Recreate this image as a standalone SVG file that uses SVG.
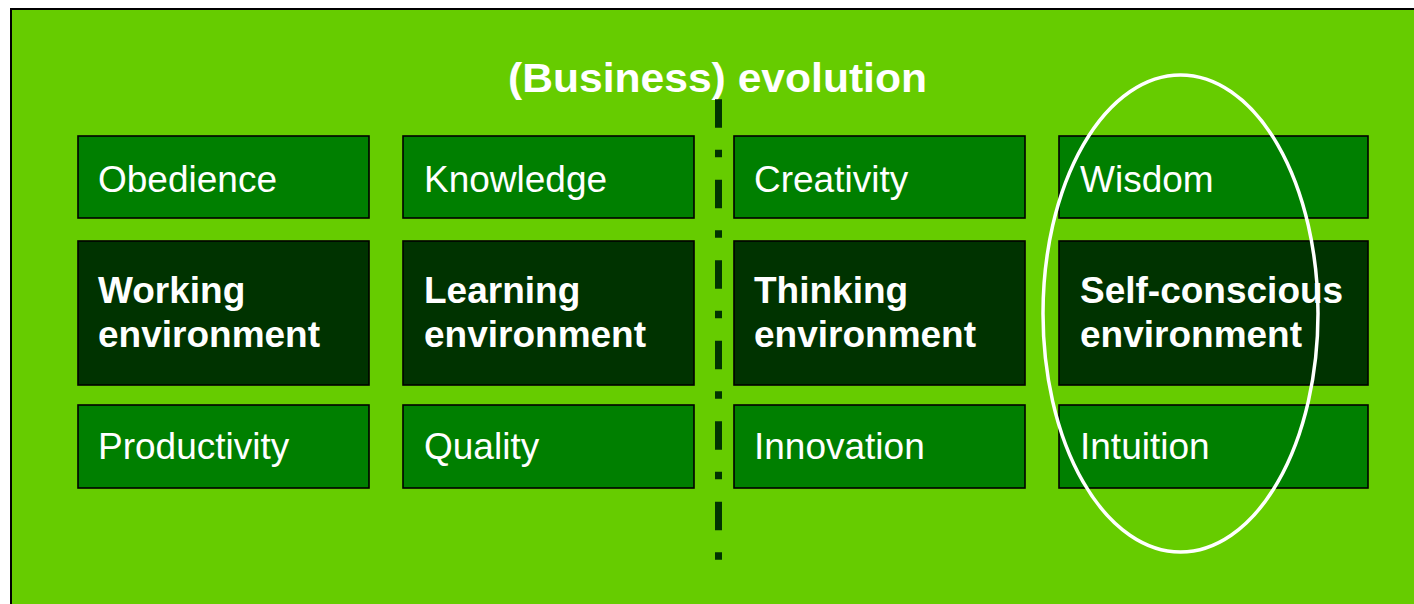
<svg xmlns="http://www.w3.org/2000/svg" width="1414" height="604" viewBox="0 0 1414 604">
<style>
.box{stroke:#000;stroke-width:1.6}
.lt{fill:#007F00}
.dk{fill:#003300}
.t{font-family:"Liberation Sans",Arial,sans-serif;font-size:37px;fill:#fff}
.b{font-weight:bold}
</style>
<rect x="0" y="0" width="1414" height="604" fill="#fff"/>
<rect x="11" y="9" width="1420" height="620" fill="#66CC00" stroke="#000" stroke-width="2"/>
<text class="t b" x="508" y="92" font-size="40" textLength="419" lengthAdjust="spacingAndGlyphs" style="font-size:40px">(Business) evolution</text>
<g id="connectors">
<line x1="718.5" y1="99.3" x2="718.5" y2="561" stroke="#003300" stroke-width="7" stroke-dasharray="28.5 22 7.5 22.5"/>
</g>
<g id="col1">
<g id="obedience"><rect class="box lt" x="78" y="136" width="291" height="82"/><text class="t" x="98" y="192">Obedience</text></g>
<g id="working"><rect class="box dk" x="78" y="241" width="291" height="144"/><text class="t b" x="98" y="303">Working</text><text class="t b" x="98" y="347">environment</text></g>
<g id="productivity"><rect class="box lt" x="78" y="405" width="291" height="83"/><text class="t" x="98" y="459">Productivity</text></g>
</g>
<g id="col2">
<g id="knowledge"><rect class="box lt" x="403" y="136" width="291" height="82"/><text class="t" x="424" y="192">Knowledge</text></g>
<g id="learning"><rect class="box dk" x="403" y="241" width="291" height="144"/><text class="t b" x="424" y="303">Learning</text><text class="t b" x="424" y="347">environment</text></g>
<g id="quality"><rect class="box lt" x="403" y="405" width="291" height="83"/><text class="t" x="424" y="459">Quality</text></g>
</g>
<g id="col3">
<g id="creativity"><rect class="box lt" x="734" y="136" width="291" height="82"/><text class="t" x="754" y="192">Creativity</text></g>
<g id="thinking"><rect class="box dk" x="734" y="241" width="291" height="144"/><text class="t b" x="754" y="303">Thinking</text><text class="t b" x="754" y="347">environment</text></g>
<g id="innovation"><rect class="box lt" x="734" y="405" width="291" height="83"/><text class="t" x="754" y="459">Innovation</text></g>
</g>
<g id="col4">
<g id="wisdom"><rect class="box lt" x="1059" y="136" width="309" height="82"/><text class="t" x="1080" y="192">Wisdom</text></g>
<g id="selfconscious"><rect class="box dk" x="1059" y="241" width="309" height="144"/><text class="t b" x="1080" y="303">Self-conscious</text><text class="t b" x="1080" y="347">environment</text></g>
<g id="intuition"><rect class="box lt" x="1059" y="405" width="309" height="83"/><text class="t" x="1080" y="459">Intuition</text></g>
</g>
<g id="highlight">
<ellipse cx="1180.5" cy="313.5" rx="137.5" ry="238.5" fill="none" stroke="#fff" stroke-width="3.5"/>
</g>
</svg>
